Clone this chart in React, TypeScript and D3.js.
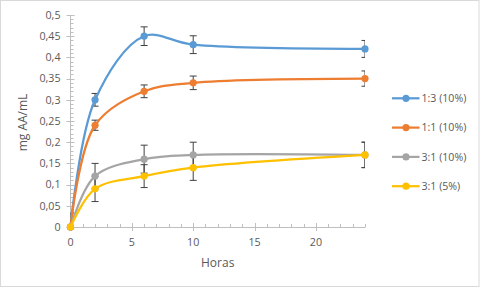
import React from "react";
import * as d3 from "d3";

const hours = [0, 2, 6, 10, 24];
const seriesNames = ["1:3 (10%)", "1:1 (10%)", "3:1 (10%)", "3:1 (5%)"];
const seriesColors = ["#5B9BD5", "#ED7D31", "#A5A5A5", "#FFC000"];
const s13 = [0, 0.30, 0.45, 0.43, 0.42];
const s11 = [0, 0.24, 0.32, 0.34, 0.35];
const s31 = [0, 0.12, 0.16, 0.17, 0.17];
const s31b = [0, 0.09, 0.12, 0.14, 0.17];
const e13 = [0, 0.015, 0.022, 0.021, 0.02];
const e11 = [0, 0.012, 0.015, 0.016, 0.018];
const e31 = [0.033, 0.03, 0.033, 0.03, 0.03];
const e31b = [0, 0.03, 0.027, 0.03, 0.03];
const yTicks = [0, 0.05, 0.1, 0.15, 0.2, 0.25, 0.3, 0.35, 0.4, 0.45, 0.5];
const xTicks = [0, 5, 10, 15, 20];

const values = [s13, s11, s31, s31b];
const errors = [e13, e11, e31, e31b];

const W = 480, H = 288;
const FONT = "'Open Sans', sans-serif";

export default function App() {
  const x = d3.scaleLinear().domain([0, 24]).range([70.5, 365]);
  const y = d3.scaleLinear().domain([0, 0.5]).range([227, 15]);
  const line = d3
    .line<[number, number]>()
    .x((d) => x(d[0]))
    .y((d) => y(d[1]))
    .curve(d3.curveCatmullRom.alpha(0.5));
  const fmt = (v: number) => String(+v.toFixed(2)).replace(".", ",");
  const minorY = d3.range(0, 0.5001, 0.01);
  const minorX = d3.range(0, 25, 1);
  const axisColor = "#BFBFBF";
  const errColor = "#404040";

  return (
    <svg width={W} height={H} style={{ position: "absolute", left: 0, top: 0 }}>
      <rect x={0} y={0} width={W} height={H} fill="#fff" />
      <rect x={0.5} y={0.5} width={478.5} height={286} fill="none" stroke="#D9D9D9" />
      <defs>
        <clipPath id="plot">
          <rect x={x(0)} y={y(0.5)} width={x(24) - x(0)} height={y(0) - y(0.5)} />
        </clipPath>
      </defs>
      {/* y axis */}
      <line x1={x(0)} x2={x(0)} y1={y(0)} y2={y(0.5)} stroke={axisColor} />
      {minorY.map((v, i) => (
        <line key={"my" + i} x1={x(0)} x2={x(0) + 3} y1={Math.round(y(v)) + 0.5} y2={Math.round(y(v)) + 0.5} stroke={axisColor} />
      ))}
      {yTicks.map((v, i) => (
        <g key={"yt" + i}>
          <line x1={x(0) - 4} x2={x(0) + 4} y1={Math.round(y(v)) + 0.5} y2={Math.round(y(v)) + 0.5} stroke={axisColor} />
          <text x={60.5} y={y(v)} dy="0.35em" textAnchor="end" fontSize={10.7} fill="#595959" fontFamily={FONT}>
            {fmt(v)}
          </text>
        </g>
      ))}
      {/* x axis */}
      <line x1={x(0)} x2={x(24)} y1={y(0) + 0.5} y2={y(0) + 0.5} stroke={axisColor} />
      {minorX.map((v, i) => (
        <line key={"mx" + i} x1={Math.round(x(v)) + 0.5} x2={Math.round(x(v)) + 0.5} y1={y(0) + 0.5} y2={y(0) - 3} stroke={axisColor} />
      ))}
      {xTicks.map((v, i) => (
        <g key={"xt" + i}>
          <line x1={Math.round(x(v)) + 0.5} x2={Math.round(x(v)) + 0.5} y1={y(0) - 4} y2={y(0) + 4} stroke={axisColor} />
          <text x={x(v)} y={242} dy="0.35em" textAnchor="middle" fontSize={10.7} fill="#595959" fontFamily={FONT}>
            {v}
          </text>
        </g>
      ))}
      <text x={217.7} y={263} dy="0.35em" textAnchor="middle" fontSize={12} fill="#595959" fontFamily={FONT}>
        Horas
      </text>
      <text
        transform={`translate(23,122.5) rotate(-90)`}
        dy="0.35em"
        textAnchor="middle"
        fontSize={12}
        fill="#595959"
        fontFamily={FONT}
      >
        mg AA/mL
      </text>
      {/* error bars */}
      <g clipPath="url(#plot)">
        {values.map((vals, si) =>
          vals.map((v, i) => {
            const e = errors[si][i];
            if (!e) return null;
            const cx = x(hours[i]);
            const y1 = y(v + e), y2 = y(v - e);
            return (
              <g key={`e${si}-${i}`} stroke={errColor} strokeWidth={1}>
                <line x1={cx} x2={cx} y1={y1} y2={y2} />
                <line x1={cx - 3.5} x2={cx + 3.5} y1={y1} y2={y1} />
                <line x1={cx - 3.5} x2={cx + 3.5} y1={y2} y2={y2} />
              </g>
            );
          })
        )}
      </g>
      {/* lines and markers */}
      {values.map((vals, si) => {
        const pts = hours.map((h, i) => [h, vals[i]] as [number, number]);
        return (
          <g key={"s" + si}>
            <path d={line(pts) || ""} fill="none" stroke={seriesColors[si]} strokeWidth={2.25} strokeLinecap="round" />
            {pts.map((p, i) => (
              <circle key={i} cx={x(p[0])} cy={y(p[1])} r={3.6} fill={seriesColors[si]} />
            ))}
          </g>
        );
      })}
      {/* legend */}
      {seriesNames.map((name, i) => {
        const ly = 98.3 + i * 29.3;
        return (
          <g key={"l" + i}>
            <line x1={392} x2={419.5} y1={ly} y2={ly} stroke={seriesColors[i]} strokeWidth={2.25} />
            <circle cx={406} cy={ly} r={3.6} fill={seriesColors[i]} />
            <text x={421.5} y={ly} dy="0.35em" fontSize={10.6} fill="#595959" fontFamily={FONT}>
              {name}
            </text>
          </g>
        );
      })}
    </svg>
  );
}
